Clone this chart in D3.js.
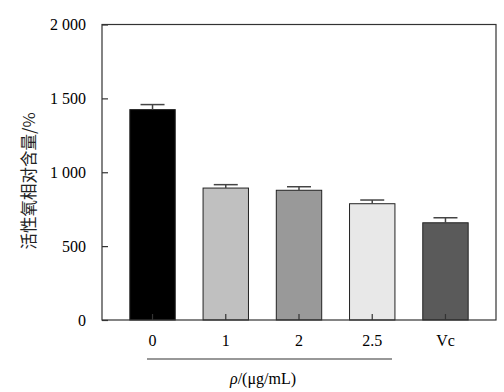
<!DOCTYPE html>
<html><head><meta charset="utf-8">
<script src="https://cdn.jsdelivr.net/npm/d3@7/dist/d3.min.js"></script>
<style>body{margin:0;background:#fff}svg{display:block}</style>
</head><body>
<svg id="c" width="504" height="392"></svg>
<script>
const categories = ["0", "1", "2", "2.5", "Vc"];
const values = [1424, 893, 878, 787, 658];
const errors = [34, 23, 24, 25, 34];
const yTicks = [0, 500, 1000, 1500, 2000];
const barColors = ["#000000", "#c0c0c0", "#999999", "#e8e8e8", "#5a5a5a"];

const svg = d3.select("#c");
const L = 102, R = 496, T = 24.5, B = 320;
const x = d3.scaleBand().domain(categories).range([L, R]).paddingInner(0.38).paddingOuter(0.38);
const y = d3.scaleLinear().domain([0, 2000]).range([B, T]);
const fmt = d => d >= 1000 ? d3.format(",")(d).replace(",", " ") : String(d);
const serif = "'Liberation Serif','Times New Roman',serif";

// bars
svg.selectAll("rect.bar").data(values).join("rect")
  .attr("x", (d, i) => x(categories[i]))
  .attr("y", d => y(d))
  .attr("width", x.bandwidth())
  .attr("height", d => B - y(d))
  .attr("fill", (d, i) => barColors[i])
  .attr("stroke", "#222").attr("stroke-width", 1);

// error bars
const eg = svg.append("g").attr("stroke", "#444").attr("stroke-width", 1.5);
values.forEach((v, i) => {
  const cx = x(categories[i]) + x.bandwidth() / 2;
  eg.append("line").attr("x1", cx).attr("x2", cx).attr("y1", y(v)).attr("y2", y(v + errors[i]));
  eg.append("line").attr("x1", cx - 12).attr("x2", cx + 12).attr("y1", y(v + errors[i])).attr("y2", y(v + errors[i]));
});

// frame
svg.append("rect").attr("x", L).attr("y", T).attr("width", R - L).attr("height", B - T)
  .attr("fill", "none").attr("stroke", "#333").attr("stroke-width", 1.2);

// y axis (inner ticks)
const ya = svg.append("g").attr("transform", `translate(${L},0)`)
  .call(d3.axisRight(y).tickValues(yTicks).tickSize(6).tickFormat(""));
ya.select(".domain").remove();
ya.selectAll("line").attr("stroke", "#333").attr("stroke-width", 1.2);
svg.selectAll("text.yt").data(yTicks).join("text")
  .attr("x", 86).attr("y", d => y(d) + 5.5)
  .attr("text-anchor", "end").attr("font-family", serif).attr("font-size", 16).attr("fill", "#000")
  .text(fmt);

// x axis (inner ticks)
const xa = svg.append("g").attr("transform", `translate(0,${B})`)
  .call(d3.axisTop(x).tickSize(6).tickFormat(""));
xa.select(".domain").remove();
xa.selectAll("line").attr("stroke", "#333").attr("stroke-width", 1.2);
svg.selectAll("text.xt").data(categories).join("text")
  .attr("x", d => x(d) + x.bandwidth() / 2).attr("y", 346)
  .attr("text-anchor", "middle").attr("font-family", serif).attr("font-size", 16).attr("fill", "#000")
  .text(d => d);

// group line under concentration labels
svg.append("line").attr("x1", 147).attr("x2", 392).attr("y1", 359).attr("y2", 359)
  .attr("stroke", "#333").attr("stroke-width", 1.2);
const xt = svg.append("text").attr("x", 263).attr("y", 384).attr("text-anchor", "middle")
  .attr("font-family", serif).attr("font-size", 16).attr("fill", "#000");
xt.append("tspan").attr("font-style", "italic").text("ρ");
xt.append("tspan").text("/(μg/mL)");

// y label
svg.append("text").attr("transform", "translate(35,181) rotate(-90)")
  .attr("text-anchor", "middle").attr("font-family", "'Noto Sans CJK SC',sans-serif")
  .attr("font-size", 16.5).attr("fill", "#222").text("活性氧相对含量/%");
</script>
</body></html>
